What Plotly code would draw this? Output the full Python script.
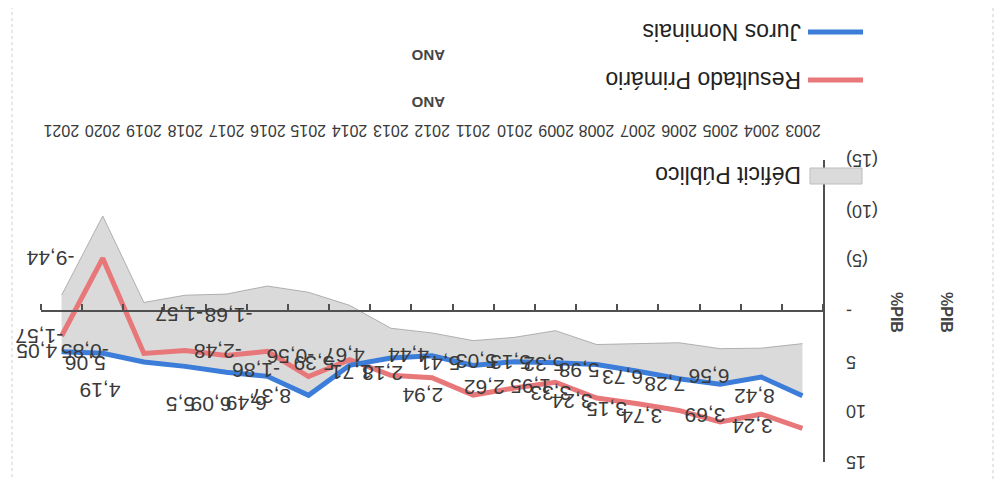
import plotly.graph_objects as go

# ---------------- data ----------------
anos = list(range(2003, 2022))
anos_txt = [str(a) for a in anos]
juros = [8.42, 6.56, 7.28, 6.73, 5.98, 5.32, 5.13, 5.03, 5.41, 4.44,
         4.67, 5.39, 8.37, 6.49, 6.09, 5.5, 5.06, 4.19, 4.05]
primario = [3.24, 3.69, 3.74, 3.15, 3.24, 3.33, 1.95, 2.62, 2.94, 2.18,
            1.71, -0.56, -1.86, -2.48, -1.68, -1.57, -0.85, -9.44, -1.57]
y_ticks = [-15, -10, -5, 0, 5, 10, 15]
y_ticktext = ['(15)', '(10)', '(5)', '-', '5', '10', '15']

# stacked line (Excel "stacked line"): primary sits on top of interest
prim_stack = [j + p for j, p in zip(juros, primario)]

# ---------------- label offsets (screen px; +x right, +y down) --------------
juros_dx = [-48, -52, -55, -57, -59, -53, -45, -38, -33, -23, -47, -36, -38, -21, -15, -4, -59, -3, -25]
juros_dy = [0, 0, 0, -2, 0, 0, 0, 0, -2, 0, -2, -2, 1, 27, 32, 38, 1, 38, -1]
prim_dx = [-50, -56, -78, -73, -66, -46, -25, -30, -50, -49, -40, -59, -52, -50, 2, -6, -59, -52, -22]
prim_dy = [-2, 2, -6, -1, -3, -4, 4, 0, 1, -4, -2, -3, -6, 0, -40, -36, -2, 1, 0]

# ---------------- layout geometry (page pixels) ----------------
PAGE_OFF = 8                      # default body margin of the html page
W_FIG, H_FIG = 1005 - 2 * PAGE_OFF, 487 - 2 * PAGE_OFF
L, R, T, B = 41, 823, 160, 462    # plot area in page pixels
PW, PH = R - L, B - T


def px(x):
    return (x - L) / PW


def py(y):
    return (B - y) / PH


BLUE = '#3b7dd8'
RED = '#e8777a'
GREY_FILL = '#dadada'
TXT = '#3a3a3a'
FONT = 'Liberation Sans, Arial, sans-serif'


def fmt(v):
    return ('%g' % v).replace('.', ',')


fig = go.Figure()

# Déficit público area (between primary result and interest)
fig.add_trace(go.Scatter(x=anos, y=primario, mode='lines',
                         line=dict(color='rgba(150,150,150,0.7)', width=1),
                         hoverinfo='skip', showlegend=False))
fig.add_trace(go.Scatter(x=anos, y=juros, mode='lines', fill='tonexty',
                         fillcolor=GREY_FILL, line=dict(color='rgba(0,0,0,0)', width=0),
                         hoverinfo='skip', showlegend=False))
# Resultado primário (stacked)
fig.add_trace(go.Scatter(x=anos, y=prim_stack, mode='lines',
                         line=dict(color=RED, width=5), showlegend=False))
# Juros nominais
fig.add_trace(go.Scatter(x=anos, y=juros, mode='lines',
                         line=dict(color=BLUE, width=5), showlegend=False))
# invisible trace to carry the zero-level category axis with tick marks
fig.add_trace(go.Scatter(x=[anos[0]], y=[0], xaxis='x2', mode='markers',
                         marker=dict(opacity=0), hoverinfo='skip', showlegend=False))

annotations = []
for i, a in enumerate(anos):
    annotations.append(dict(x=a, y=juros[i], xref='x', yref='y', text=fmt(juros[i]),
                            showarrow=False, textangle=180, xanchor='center', yanchor='middle',
                            xshift=juros_dx[i], yshift=-juros_dy[i],
                            font=dict(family=FONT, size=21, color=TXT)))
    annotations.append(dict(x=a, y=prim_stack[i], xref='x', yref='y', text=fmt(primario[i]),
                            showarrow=False, textangle=180, xanchor='center', yanchor='middle',
                            xshift=prim_dx[i], yshift=-prim_dy[i],
                            font=dict(family=FONT, size=21, color=TXT)))

# category tick labels (rotated 180°, above the plot)
for a, t in zip(anos, anos_txt):
    annotations.append(dict(x=a, y=py(131), xref='x', yref='paper', text=t,
                            showarrow=False, textangle=180, xanchor='center', yanchor='middle',
                            font=dict(family=FONT, size=16, color=TXT)))
# value tick labels (rotated 180°, right of the axis)
for v, t in zip(y_ticks, y_ticktext):
    annotations.append(dict(x=px(844), y=v, xref='paper', yref='y', text=t,
                            showarrow=False, textangle=180, xanchor='left', yanchor='middle',
                            font=dict(family=FONT, size=18, color=TXT)))

# legend (rotated like the scan)
legend_items = [('Juros Nominais', 32), ('Resultado Primário', 80), ('Déficit Público', 175)]
for name, yy in legend_items:
    annotations.append(dict(x=px(803), y=py(yy), xref='paper', yref='paper', text=name,
                            showarrow=False, textangle=180, xanchor='right', yanchor='middle',
                            font=dict(family=FONT, size=23, color='#222')))

# axis titles
for xx in (897, 947):
    annotations.append(dict(x=px(xx), y=py(312), xref='paper', yref='paper', text='<b>%PIB</b>',
                            showarrow=False, textangle=90, xanchor='center', yanchor='middle',
                            font=dict(family=FONT, size=16, color='#444')))
for yy in (55, 103):
    annotations.append(dict(x=px(428), y=py(yy), xref='paper', yref='paper', text='<b>ANO</b>',
                            showarrow=False, textangle=180, xanchor='center', yanchor='middle',
                            font=dict(family=FONT, size=15, color='#444')))

shapes = [
    dict(type='line', xref='paper', yref='paper', x0=px(808), x1=px(863), y0=py(32), y1=py(32),
         line=dict(color=BLUE, width=5)),
    dict(type='line', xref='paper', yref='paper', x0=px(808), x1=px(863), y0=py(80), y1=py(80),
         line=dict(color=RED, width=5)),
    dict(type='rect', xref='paper', yref='paper', x0=px(810), x1=px(862), y0=py(184), y1=py(168),
         fillcolor=GREY_FILL, line=dict(color='#bdbdbd', width=1)),
    dict(type='rect', xref='paper', yref='paper', x0=px(12), x1=px(993), y0=py(500), y1=py(7),
         line=dict(color='#cfcfcf', width=1, dash='dot'), fillcolor='rgba(0,0,0,0)', layer='below'),
]

fig.update_layout(
    width=W_FIG, height=H_FIG, autosize=False,
    margin=dict(l=L - PAGE_OFF, r=W_FIG - (R - PAGE_OFF), t=T - PAGE_OFF,
                b=H_FIG - (B - PAGE_OFF), pad=0),
    paper_bgcolor='white', plot_bgcolor='white',
    showlegend=False,
    xaxis=dict(range=[2021.5, 2002.5], showticklabels=False, ticks='',
               showline=False, showgrid=False, zeroline=False),
    xaxis2=dict(range=[2021.5, 2002.5], overlaying='x', anchor='free', position=0.5,
                side='top', tickmode='linear', tick0=2002.5, dtick=1,
                ticks='outside', ticklen=6, tickwidth=1.5, tickcolor='#505050',
                showticklabels=False, showline=True, linecolor='#505050', linewidth=2,
                showgrid=False, zeroline=False),
    yaxis=dict(range=[15, -15], side='right', showticklabels=False, ticks='',
               showline=True, linecolor='#505050', linewidth=2,
               showgrid=False, zeroline=False),
    annotations=annotations,
    shapes=shapes,
)

fig.write_html('out.html')
